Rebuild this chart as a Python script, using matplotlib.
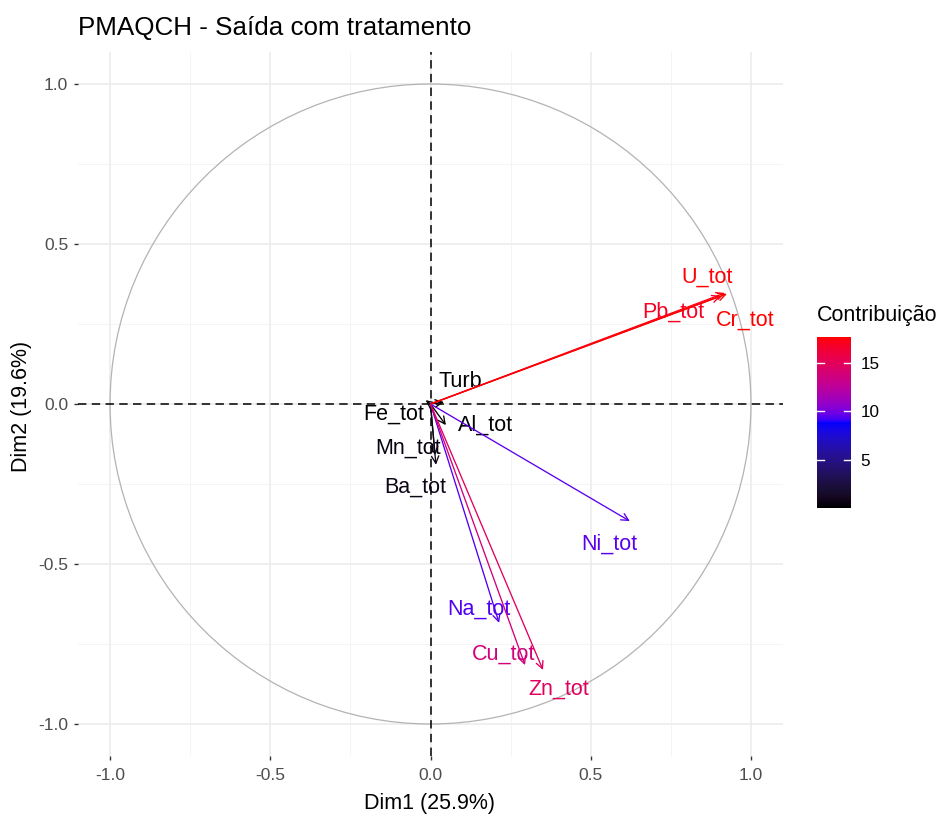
import numpy as np
import matplotlib
matplotlib.use("Agg")
import matplotlib.pyplot as plt
from matplotlib.colors import ListedColormap, Normalize
from matplotlib.patches import Circle

plt.rcParams['font.family'] = ['Liberation Sans', 'DejaVu Sans']

# variables: arrow end (Dim1, Dim2), contribution, label position
variables = ["Turb", "Fe_tot", "Al_tot", "Mn_tot", "Ba_tot", "U_tot", "Pb_tot",
             "Cr_tot", "Ni_tot", "Na_tot", "Cu_tot", "Zn_tot"]
dim1 = [0.042, -0.015, 0.048, 0.014, 0.017, 0.919, 0.906, 0.925, 0.622, 0.214, 0.295, 0.351]
dim2 = [0.006, 0.012, -0.066, -0.160, -0.190, 0.347, 0.338, 0.344, -0.366, -0.684, -0.816, -0.831]
contrib = [0.05, 0.02, 0.12, 0.47, 0.67, 17.6, 17.0, 17.7, 9.5, 9.4, 13.8, 14.9]
label_x = [0.092, -0.114, 0.173, -0.070, -0.048, 0.863, 0.757, 0.981, 0.557, 0.151, 0.229, 0.400]
label_y = [0.069, -0.031, -0.066, -0.138, -0.259, 0.397, 0.288, 0.263, -0.438, -0.640, -0.781, -0.890]
cbar_ticks = [5, 10, 15]


# ggplot-like gradient (interpolated in Lab space): black -> blue -> red
def srgb_to_lab(rgb):
    rgb = np.asarray(rgb, float)
    lin = np.where(rgb <= 0.04045, rgb / 12.92, ((rgb + 0.055) / 1.055) ** 2.4)
    m = np.array([[0.4124, 0.3576, 0.1805], [0.2126, 0.7152, 0.0722], [0.0193, 0.1192, 0.9505]])
    xyz = m @ lin / np.array([0.95047, 1.0, 1.08883])
    f = np.where(xyz > 0.008856, np.cbrt(xyz), 7.787 * xyz + 16 / 116)
    return np.array([116 * f[1] - 16, 500 * (f[0] - f[1]), 200 * (f[1] - f[2])])


def lab_to_srgb(lab):
    L, a, b = lab
    fy = (L + 16) / 116
    f = np.array([fy + a / 500, fy, fy - b / 200])
    xyz = np.where(f ** 3 > 0.008856, f ** 3, (f - 16 / 116) / 7.787) * np.array([0.95047, 1.0, 1.08883])
    m = np.array([[3.2406, -1.5372, -0.4986], [-0.9689, 1.8758, 0.0415], [0.0557, -0.2040, 1.0570]])
    lin = np.clip(m @ xyz, 0, 1)
    rgb = np.where(lin <= 0.0031308, 12.92 * lin, 1.055 * lin ** (1 / 2.4) - 0.055)
    return np.clip(rgb, 0, 1)


stops = [srgb_to_lab(c) for c in [(0, 0, 0), (0, 0, 1), (1, 0, 0)]]
cols = []
for t in np.linspace(0, 1, 256):
    if t <= 0.5:
        lab = stops[0] + (stops[1] - stops[0]) * (t / 0.5)
    else:
        lab = stops[1] + (stops[2] - stops[1]) * ((t - 0.5) / 0.5)
    cols.append(lab_to_srgb(lab))
cmap = ListedColormap(cols)
norm = Normalize(vmin=min(contrib), vmax=max(contrib))

W, H = 940, 817
fig = plt.figure(figsize=(W / 100, H / 100), dpi=100)
ax = fig.add_axes([78 / W, (H - 756) / H, 705 / W, 704 / H])
ax.set_xlim(-1.1, 1.1)
ax.set_ylim(-1.1, 1.1)

for s in ax.spines.values():
    s.set_visible(False)
ax.set_xticks([-1.0, -0.5, 0.0, 0.5, 1.0])
ax.set_yticks([-1.0, -0.5, 0.0, 0.5, 1.0])
ax.set_xticklabels(["-1.0", "-0.5", "0.0", "0.5", "1.0"])
ax.set_yticklabels(["-1.0", "-0.5", "0.0", "0.5", "1.0"])
ax.set_xticks([-0.75, -0.25, 0.25, 0.75], minor=True)
ax.set_yticks([-0.75, -0.25, 0.25, 0.75], minor=True)
ax.tick_params(which="major", length=3, width=1, color="#333333", labelcolor="#4D4D4D", labelsize=12.5)
ax.tick_params(axis="x", pad=6)
ax.tick_params(axis="y", pad=4)
ax.tick_params(which="minor", length=0)
ax.grid(which="major", color="#EBEBEB", linewidth=1.1)
ax.grid(which="minor", color="#F2F2F2", linewidth=0.6)
ax.set_axisbelow(True)

ax.add_patch(Circle((0, 0), 1, fill=False, edgecolor="#B3B3B3", linewidth=0.9))
ax.axhline(0, color="black", linestyle=(0, (5.5, 3.5)), linewidth=1.1)
ax.axvline(0, color="black", linestyle=(0, (5.5, 3.5)), linewidth=1.1)

for i, name in enumerate(variables):
    c = cmap(norm(contrib[i]))
    ax.annotate("", xy=(dim1[i], dim2[i]), xytext=(0, 0),
                arrowprops=dict(arrowstyle="->", color=c, lw=0.95,
                                mutation_scale=13, shrinkA=0, shrinkB=0))
    ax.text(label_x[i], label_y[i], name, color=c, fontsize=15.5,
            ha="center", va="center")

fig.text(430 / W, 1 - 803 / H, "Dim1 (25.9%)", fontsize=15.5, ha="center", va="center")
fig.text(22 / W, 1 - 406 / H, "Dim2 (19.6%)", fontsize=15.5, ha="center", va="center",
         rotation=90)
fig.text(78 / W, 1 - 28 / H, "PMAQCH - Saída com tratamento", fontsize=18.7,
         ha="left", va="center", color="black")

# colour bar
cax = fig.add_axes([817 / W, (H - 508) / H, 34 / W, 171 / H])
grad = np.linspace(min(contrib), max(contrib), 300).reshape(-1, 1)
cax.imshow(grad, aspect="auto", cmap=cmap, norm=norm, origin="lower",
           extent=[0, 1, min(contrib), max(contrib)])
cax.set_xlim(0, 1)
cax.set_ylim(min(contrib), max(contrib))
for s in cax.spines.values():
    s.set_visible(False)
cax.set_xticks([])
cax.yaxis.tick_right()
cax.set_yticks(cbar_ticks)
cax.tick_params(axis="y", length=0, labelsize=12.3, labelcolor="black", pad=7)
for t in cbar_ticks:
    cax.plot([0, 0.22], [t, t], color="white", lw=1)
    cax.plot([0.78, 1], [t, t], color="white", lw=1)
fig.text(817 / W, 1 - 315 / H, "Contribuição", fontsize=15.5, ha="left",
         va="center", color="black")

fig.savefig("out.png", dpi=100, facecolor="white")
